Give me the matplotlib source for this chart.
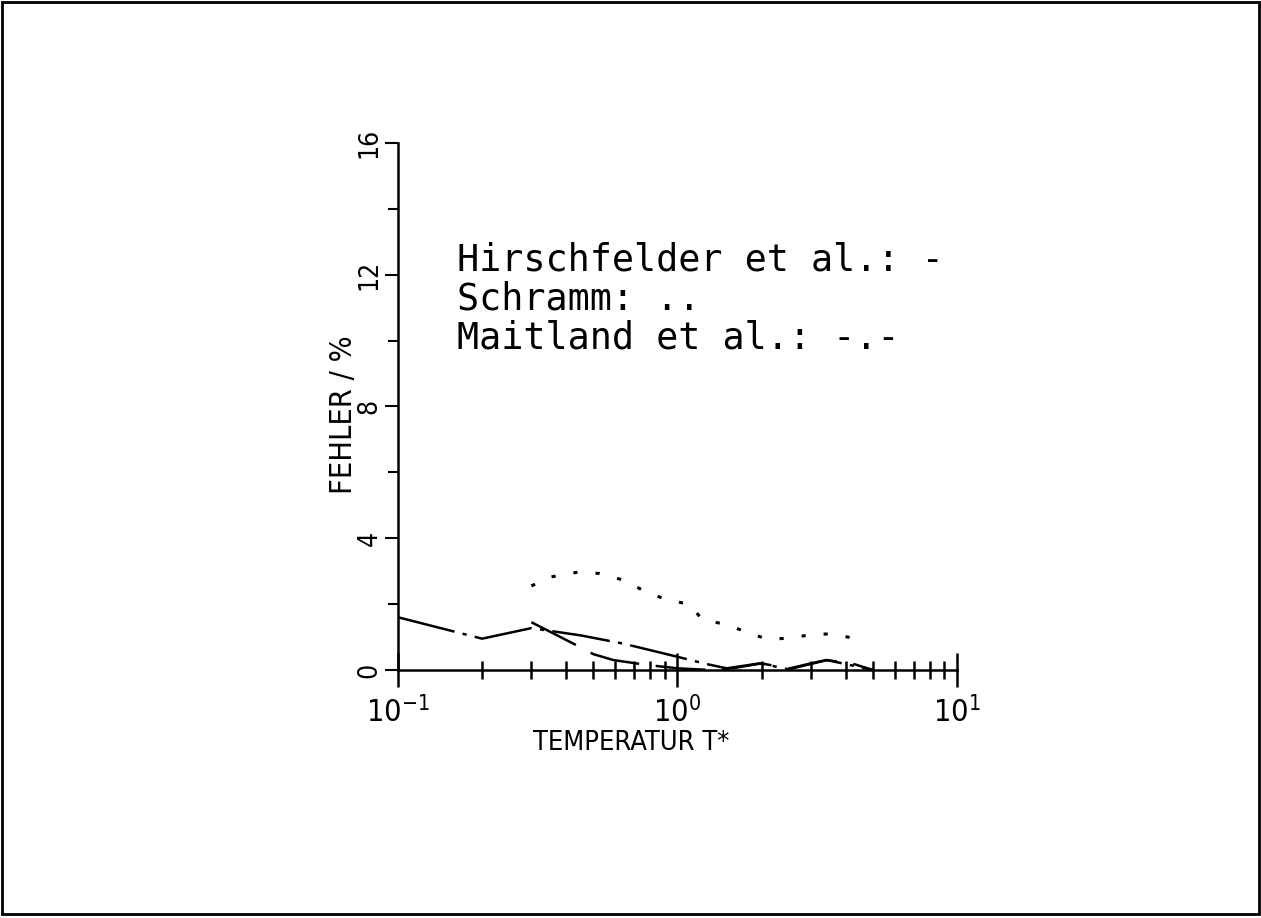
import numpy as np
import matplotlib
matplotlib.use("Agg")
import matplotlib.pyplot as plt
from matplotlib.patches import Rectangle
from matplotlib.ticker import FixedLocator, NullFormatter

plt.rcParams['lines.scale_dashes'] = False

# Hirschfelder et al. (long dashes)
hir_x = [0.3, 0.44, 0.5, 0.59, 0.78, 1.0, 1.3, 1.6, 2.0, 2.5, 3.0, 3.4, 4.2, 5.0]
hir_y = [1.45, 0.73, 0.48, 0.3, 0.15, 0.05, 0.0, 0.06, 0.2, 0.04, 0.2, 0.3, 0.2, 0.0]

# Schramm (dots)
sch_x = [0.3, 0.35, 0.44, 0.525, 0.64, 0.76, 0.92, 1.1, 1.23, 1.48, 1.77, 2.1, 2.57, 3.06, 3.64, 4.42]
sch_y = [2.55, 2.82, 2.97, 2.93, 2.73, 2.4, 2.12, 2.0, 1.52, 1.39, 1.15, 0.93, 0.97, 1.09, 1.09, 0.93]

# Maitland et al. (dash-dot)
mai_x = [0.1, 0.2, 0.3, 0.45, 0.64, 0.8, 1.0, 1.27, 1.5, 1.97, 2.5, 3.43, 5.0]
mai_y = [1.6, 0.95, 1.27, 1.05, 0.8, 0.6, 0.4, 0.18, 0.05, 0.2, 0.02, 0.3, 0.0]

legend_lines = ["Hirschfelder et al.: -", "Schramm: ..", "Maitland et al.: -.-"]
yticks = [0, 4, 8, 12, 16]
yminor = [2, 6, 10, 14]
xmajor = [0.1, 1.0, 10.0]
xlabels = [r"$\mathregular{10^{-1}}$", r"$\mathregular{10^{0}}$", r"$\mathregular{10^{1}}$"]

fnt = dict(family='DejaVu Sans', stretch='condensed')

fig = plt.figure(figsize=(12.61, 9.18), dpi=100)
fig.patches.append(Rectangle((0.0015, 0.0045), 0.9970, 0.9930, transform=fig.transFigure,
                             fill=False, edgecolor='black', linewidth=2))

ax = fig.add_axes([0.3156, 0.2702, 0.4433, 0.5740])
ax.set_xscale('log')
ax.set_xlim(0.1, 10)
ax.set_ylim(0, 16)

lw = 1.8
ax.plot(hir_x, hir_y, color='black', lw=lw, linestyle=(0, (36, 12)))
ax.plot(sch_x, sch_y, color='black', lw=2.2, linestyle=(0, (3, 13)))
ax.plot(mai_x, mai_y, color='black', lw=lw, linestyle=(0, (42, 6, 3, 6)))

for s in ['top', 'right']:
    ax.spines[s].set_visible(False)
for s in ['left', 'bottom']:
    ax.spines[s].set_linewidth(1.8)

ax.xaxis.set_major_locator(FixedLocator(xmajor))
minor = [k * 10.0 ** e for e in (-1, 0) for k in range(2, 10)]
ax.xaxis.set_minor_locator(FixedLocator(minor))
ax.xaxis.set_minor_formatter(NullFormatter())
ax.set_xticklabels(xlabels, fontsize=22, **fnt)
ax.tick_params(axis='x', which='major', direction='inout', length=25, width=1.8, pad=6)
ax.tick_params(axis='x', which='minor', direction='inout', length=13, width=1.8)

ax.set_yticks(yticks)
ax.yaxis.set_minor_locator(FixedLocator(yminor))
ax.set_yticklabels([str(v) for v in yticks], rotation=90, va='center', fontsize=19, **fnt)
ax.tick_params(axis='y', which='major', direction='out', length=9.5, width=1.5, pad=1.5)
ax.tick_params(axis='y', which='minor', direction='out', length=7, width=1.5)

ax.text(0.417, -0.1385, "TEMPERATUR T*", transform=ax.transAxes,
        ha='center', va='center', fontsize=19.5, **fnt)
ax.text(-0.098, 0.484, "FEHLER / %", transform=ax.transAxes, rotation=90,
        ha='center', va='center', fontsize=22, **fnt)

for i, t in enumerate(legend_lines):
    ax.text(0.1055, 0.759 - i * 0.074, t, transform=ax.transAxes,
            family='DejaVu Sans Mono', fontsize=26.5, va='baseline', ha='left')

fig.savefig("out.png", dpi=100)
